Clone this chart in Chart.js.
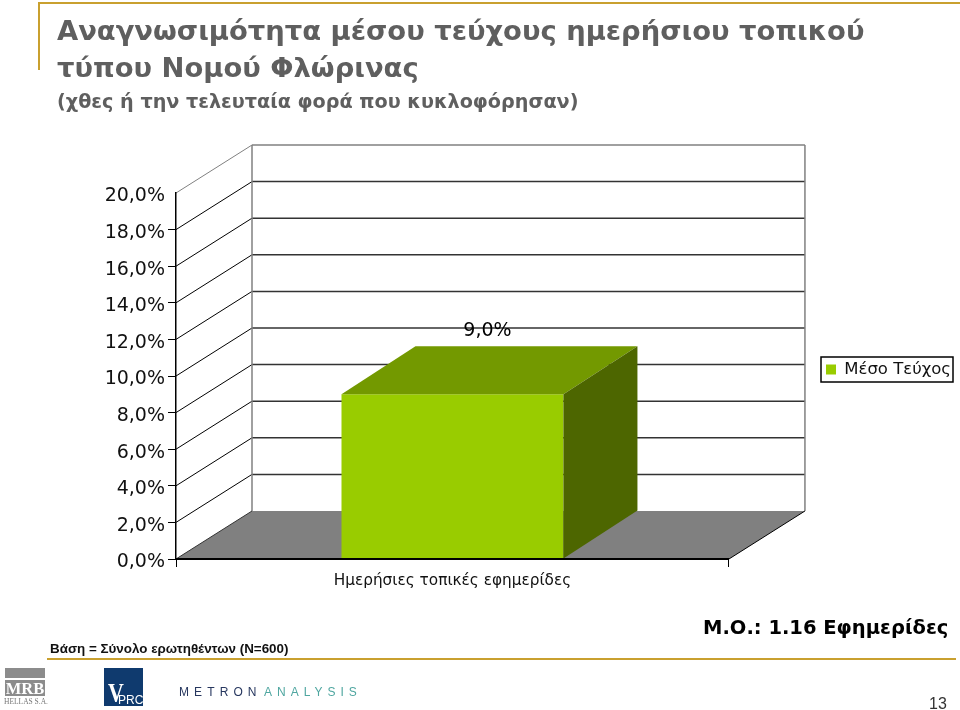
<!DOCTYPE html>
<html>
<head>
<meta charset="utf-8">
<title>Αναγνωσιμότητα μέσου τεύχους</title>
<script src="https://cdn.jsdelivr.net/npm/chart.js@4"></script>
<style>
    html, body { margin: 0; padding: 0; background: #fff; }
    #page { position: relative; width: 960px; height: 710px; overflow: hidden; }
    #page div { position: absolute; white-space: nowrap; }
    canvas { position: absolute; left: 0; top: 0; }
    .verdana { font-family: "DejaVu Sans", sans-serif; }
    .gold { background: #c9a02f; }
</style>
</head>
<body>
<div id="page">
    <canvas id="chart" width="960" height="710"></canvas>

    <div class="gold" style="left:38px;top:2px;width:922px;height:2px"></div>
    <div class="gold" style="left:38px;top:2px;width:2px;height:68px"></div>
    <div class="gold" style="left:47px;top:658px;width:909px;height:2px"></div>

    <div class="verdana" style="left:57px;top:13px;font-size:27.4px;line-height:36.5px;font-weight:bold;color:#5f5f5f">Αναγνωσιμότητα μέσου τεύχους ημερήσιου τοπικού<br>τύπου Νομού Φλώρινας</div>
    <div class="verdana" style="left:57px;top:90px;font-size:19.2px;line-height:24px;font-weight:bold;color:#5f5f5f">(χθες ή την τελευταία φορά που κυκλοφόρησαν)</div>

    <div style="left:50px;top:641px;font:bold 13.4px 'Liberation Sans',sans-serif;color:#111">Βάση = Σύνολο ερωτηθέντων (Ν=600)</div>
    <div class="verdana" style="left:703px;top:616px;font-size:19.5px;font-weight:bold;color:#000">Μ.Ο.: 1.16 Εφημερίδες</div>
    <div style="left:929px;top:695px;font:16px 'Liberation Sans',sans-serif;color:#333">13</div>

    <div style="left:5px;top:668px;width:40px;height:10px;background:#8c8c8c"></div>
    <div style="left:5px;top:680px;width:40px;height:16px;background:#8c8c8c;color:#fff;font:bold 16.5px/17px 'Liberation Serif',serif;text-align:center;overflow:hidden">MRB</div>
    <div style="left:4px;top:697px;font:7.5px 'Liberation Serif',serif;color:#777">HELLAS S.A.</div>

    <div style="left:104px;top:668px;width:39px;height:38px;background:#0f3a6e"></div>
    <div style="left:108px;top:680px;color:#fff;font:bold 28px/26px 'Liberation Serif',serif;transform:scaleX(.78);transform-origin:left">V</div>
    <div style="left:118px;top:693px;color:#fff;font:12px/14px 'Liberation Sans',sans-serif">PRC</div>

    <div style="left:179px;top:684px;font:12px/16px 'Liberation Sans',sans-serif;letter-spacing:5.1px;color:#27375f">METRON</div>
    <div style="left:264px;top:684px;font:12px/16px 'Liberation Sans',sans-serif;letter-spacing:5px;color:#4fa6a0">ANALYSIS</div>
</div>

<script>
const categories = ['Ημερήσιες τοπικές εφημερίδες'];
const seriesName = 'Μέσο Τεύχος';
const seriesValues = [9.0];
const valueLabels = ['9,0%'];
const tickLabels = ['0,0%', '2,0%', '4,0%', '6,0%', '8,0%', '10,0%', '12,0%', '14,0%', '16,0%', '18,0%', '20,0%'];
const tickValues = [0, 2, 4, 6, 8, 10, 12, 14, 16, 18, 20];

// the 3D box look: how far the back wall and the bar top are pushed away
const wallDepth = { x: 76, y: 48 };
const barDepth = { x: 74, y: 48 };

function polygon(ctx, points, fill) {
    ctx.beginPath();
    points.forEach((p, i) => i ? ctx.lineTo(p[0], p[1]) : ctx.moveTo(p[0], p[1]));
    ctx.closePath();
    ctx.fillStyle = fill;
    ctx.fill();
}

function line(ctx, x1, y1, x2, y2, color, width) {
    ctx.beginPath();
    ctx.moveTo(x1, y1);
    ctx.lineTo(x2, y2);
    ctx.strokeStyle = color;
    ctx.lineWidth = width;
    ctx.stroke();
}

const walls3d = {
    id: 'walls3d',
    afterLayout(chart) {
        // the legend sits beside the plot, not in its own column
        const legend = chart.legend;
        legend.left = 821;
        legend.right = 953;
        legend.top = 357;
        legend.bottom = 382;
    },
    beforeDraw(chart) {
        const ctx = chart.ctx;
        const area = chart.chartArea;
        const y = chart.scales.y;
        const dx = wallDepth.x;
        const dy = wallDepth.y;
        ctx.save();
        tickValues.forEach(v => {
            const py = y.getPixelForValue(v);
            if (v === 20) {
                line(ctx, area.left, py, area.left + dx, py - dy, '#808080', 1);
                line(ctx, area.left + dx, py - dy, area.right + dx, py - dy, '#808080', 1.5);
            } else if (v > 0) {
                line(ctx, area.left, py, area.left + dx, py - dy, '#000', 1);
                line(ctx, area.left + dx, py - dy, area.right + dx, py - dy, '#333', 1.5);
            }
        });
        const base = y.getPixelForValue(0);
        const top = y.getPixelForValue(20);
        line(ctx, area.left + dx, top - dy, area.left + dx, base - dy, '#808080', 1.5);
        line(ctx, area.right + dx, top - dy, area.right + dx, base - dy, '#808080', 1.5);
        polygon(ctx, [
            [area.left, base],
            [area.right, base],
            [area.right + dx, base - dy],
            [area.left + dx, base - dy]
        ], '#808080');
        line(ctx, area.left, base, area.left + dx, base - dy, '#333', 1);
        line(ctx, area.right, base, area.right + dx, base - dy, '#000', 1);
        ctx.restore();
    },
    afterDatasetsDraw(chart) {
        const ctx = chart.ctx;
        const bar = chart.getDatasetMeta(0).data[0];
        const left = bar.x - bar.width / 2;
        const right = bar.x + bar.width / 2;
        const dx = barDepth.x;
        const dy = barDepth.y;
        ctx.save();
        polygon(ctx, [
            [left, bar.y],
            [right, bar.y],
            [right + dx, bar.y - dy],
            [left + dx, bar.y - dy]
        ], '#739900');
        polygon(ctx, [
            [right, bar.y],
            [right + dx, bar.y - dy],
            [right + dx, bar.base - dy],
            [right, bar.base]
        ], '#4d6600');
        ctx.font = '19px "DejaVu Sans"';
        ctx.fillStyle = '#000';
        ctx.textAlign = 'center';
        ctx.textBaseline = 'middle';
        ctx.fillText(valueLabels[0], bar.x + 35, bar.y - 63);
        ctx.restore();
    },
    afterDraw(chart) {
        const legend = chart.legend;
        const ctx = chart.ctx;
        ctx.save();
        ctx.strokeStyle = '#000';
        ctx.lineWidth = 1.5;
        ctx.strokeRect(legend.left, legend.top, legend.right - legend.left, legend.bottom - legend.top);
        ctx.restore();
    }
};

new Chart(document.getElementById('chart').getContext('2d'), {
    type: 'bar',
    data: {
        labels: categories,
        datasets: [{
            label: seriesName,
            data: seriesValues,
            backgroundColor: '#99CC00',
            borderWidth: 0,
            barPercentage: 0.4014,
            categoryPercentage: 1
        }]
    },
    options: {
        responsive: false,
        animation: false,
        layout: { padding: { left: 0, right: 91, top: 193, bottom: 121 } },
        plugins: {
            title: { display: false },
            tooltip: { enabled: false },
            legend: {
                position: 'right',
                labels: {
                    boxWidth: 10,
                    boxHeight: 10,
                    padding: 5,
                    color: '#111',
                    font: { family: 'DejaVu Sans', size: 16.5 }
                }
            }
        },
        scales: {
            x: {
                afterFit(scale) { scale.height = 30; },
                border: { color: '#000', width: 2, z: 1 },
                grid: { drawOnChartArea: false, tickLength: 8, tickColor: '#000' },
                ticks: { color: '#111', font: { family: 'DejaVu Sans', size: 15.3 }, padding: 5 }
            },
            y: {
                min: 0,
                max: 20,
                afterFit(scale) { scale.width = 176; },
                afterBuildTicks(scale) { scale.ticks = tickValues.map(v => ({ value: v })); },
                border: { color: '#000', width: 1.5 },
                grid: {
                    drawOnChartArea: false,
                    tickLength: 8,
                    tickColor: ctx => ctx.tick.value === 20 ? 'rgba(0,0,0,0)' : '#000'
                },
                ticks: {
                    color: '#111',
                    padding: 3,
                    labelOffset: 3.5,
                    font: { family: 'DejaVu Sans', size: 19 },
                    callback: (v) => tickLabels[tickValues.indexOf(v)]
                }
            }
        }
    },
    plugins: [walls3d]
});
</script>
</body>
</html>
